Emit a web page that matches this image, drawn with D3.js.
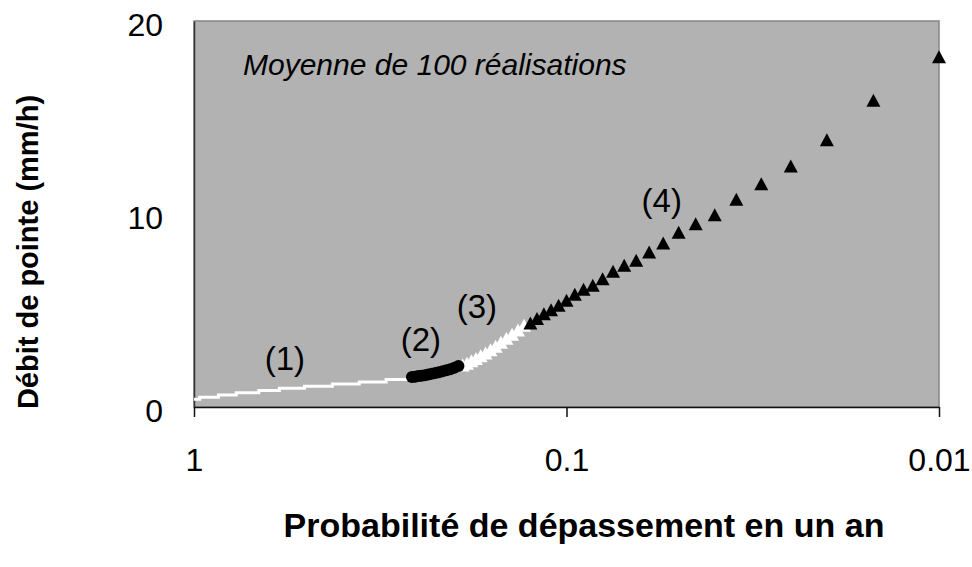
<!DOCTYPE html>
<html>
<head>
<meta charset="utf-8">
<script src="https://cdn.jsdelivr.net/npm/d3@7"></script>
<style>
    body { margin: 0; background: #fff; }
    svg text { font-family: "Liberation Sans", Arial, sans-serif; fill: #000; }
</style>
</head>
<body>
<svg id="chart" width="972" height="567"></svg>
<script>
// Probabilité de dépassement (x) et débit de pointe en mm/h (y)

// (1) ligne blanche en escalier : paliers
const steps1P = [1, 0.965, 0.86, 0.77, 0.67, 0.59, 0.505, 0.425, 0.36, 0.305, 0.265];
const steps1Y = [0.40, 0.51, 0.62, 0.74, 0.85, 0.97, 1.08, 1.19, 1.30, 1.42, 1.42];

// (2) cercles noirs
const series2P = [0.195, 0.200, 0.205, 0.210, 0.215, 0.220, 0.225, 0.230, 0.235, 0.240, 0.245, 0.250, 0.255, 0.260];
const series2Y = [2.12, 2.03, 1.96, 1.90, 1.85, 1.80, 1.76, 1.72, 1.68, 1.65, 1.62, 1.60, 1.57, 1.55];

// (3) triangles blancs
const series3P = [0.130, 0.135, 0.140, 0.145, 0.150, 0.155, 0.160, 0.165, 0.170, 0.175, 0.180, 0.185, 0.190];
const series3Y = [4.23, 3.99, 3.77, 3.56, 3.36, 3.15, 2.96, 2.80, 2.65, 2.51, 2.39, 2.27, 2.17];

// (4) triangles noirs
const series4P = [0.010, 0.015, 0.020, 0.025, 0.030, 0.035, 0.040, 0.045, 0.050, 0.055, 0.060, 0.065,
                  0.070, 0.075, 0.080, 0.085, 0.090, 0.095, 0.100, 0.105, 0.110, 0.115, 0.120, 0.125];
const series4Y = [18.15, 15.89, 13.85, 12.49, 11.57, 10.76, 9.96, 9.50, 9.05, 8.50, 8.03, 7.60,
                  7.34, 7.03, 6.65, 6.31, 6.10, 5.84, 5.53, 5.27, 5.04, 4.83, 4.58, 4.35];

const xTicks = [1, 0.1, 0.01];
const yTicks = [0, 10, 20];

const labels = [
    { text: '(1)', p: 0.570, v: 1.92 },
    { text: '(2)', p: 0.246, v: 2.90 },
    { text: '(3)', p: 0.174, v: 4.61 },
    { text: '(4)', p: 0.0555, v: 10.1 }
];

const svg = d3.select('#chart');
const margin = { top: 21, right: 33, bottom: 160, left: 194 };
const width = 972 - margin.left - margin.right;
const height = 567 - margin.top - margin.bottom;

const g = svg.append('g')
    .attr('transform', `translate(${margin.left},${margin.top})`);

const x = d3.scaleLog().domain([1, 0.01]).range([0, width]);
const y = d3.scaleLinear().domain([0, 20]).range([height, 0]);

// plot background
g.append('rect')
    .attr('width', width)
    .attr('height', height)
    .attr('fill', '#b2b2b2')
    .attr('stroke', '#858585')
    .attr('stroke-width', 1.5);

// Y axis
const yAxis = g.append('g')
    .call(d3.axisLeft(y).tickValues(yTicks).tickSize(0).tickPadding(31));
yAxis.select('.domain').attr('stroke', '#333').attr('stroke-width', 1.5);
yAxis.selectAll('text')
    .attr('dy', '0.45em')
    .style('font-size', '32px');

// X axis
const xAxis = g.append('g')
    .attr('transform', `translate(0,${height})`)
    .call(d3.axisBottom(x).tickValues(xTicks).tickFormat(d => String(d)).tickSize(10).tickPadding(31).tickSizeOuter(0));
xAxis.select('.domain').attr('stroke', '#111').attr('stroke-width', 1.5);
xAxis.selectAll('.tick line').attr('stroke', '#111').attr('stroke-width', 1.5);
xAxis.selectAll('text').style('font-size', '32px');

// (1) white stepped line
const steps1 = steps1P.map((p, i) => ({ p, v: steps1Y[i] }));
const line = d3.line()
    .x(d => x(d.p))
    .y(d => y(d.v))
    .curve(d3.curveStepAfter);

g.append('path')
    .datum(steps1)
    .attr('d', line)
    .attr('fill', 'none')
    .attr('stroke', '#fff')
    .attr('stroke-width', 3);

// triangle marker, centred on its box
const triangle = {
    draw(context, size) {
        const w = Math.sqrt(size);
        context.moveTo(0, -w / 2);
        context.lineTo(w / 2 + 0.5, w / 2);
        context.lineTo(-w / 2 - 0.5, w / 2);
        context.closePath();
    }
};
const triPath = d3.symbol().type(triangle).size(13 * 13)();

// (3) white triangles
g.selectAll('.tri3')
    .data(series3P.map((p, i) => ({ p, v: series3Y[i] })))
    .enter()
    .append('path')
    .attr('class', 'tri3')
    .attr('d', triPath)
    .attr('transform', d => `translate(${x(d.p)},${y(d.v)})`)
    .attr('fill', '#fff');

// (2) black circles
g.selectAll('.dot2')
    .data(series2P.map((p, i) => ({ p, v: series2Y[i] })))
    .enter()
    .append('circle')
    .attr('class', 'dot2')
    .attr('cx', d => x(d.p))
    .attr('cy', d => y(d.v))
    .attr('r', 6)
    .attr('fill', '#000');

// (4) black triangles
g.selectAll('.tri4')
    .data(series4P.map((p, i) => ({ p, v: series4Y[i] })))
    .enter()
    .append('path')
    .attr('class', 'tri4')
    .attr('d', triPath)
    .attr('transform', d => `translate(${x(d.p)},${y(d.v)})`)
    .attr('fill', '#000');

// series labels
g.selectAll('.lbl')
    .data(labels)
    .enter()
    .append('text')
    .attr('class', 'lbl')
    .attr('x', d => x(d.p))
    .attr('y', d => y(d.v))
    .attr('text-anchor', 'middle')
    .style('font-size', '33px')
    .text(d => d.text);

// annotation
g.append('text')
    .attr('x', 49)
    .attr('y', 54)
    .style('font-size', '30px')
    .style('font-style', 'italic')
    .text('Moyenne de 100 réalisations');

// axis titles
svg.append('text')
    .attr('x', 584)
    .attr('y', 537)
    .attr('text-anchor', 'middle')
    .style('font-size', '34px')
    .style('font-weight', 'bold')
    .text('Probabilité de dépassement en un an');

svg.append('text')
    .attr('transform', 'translate(38,252) rotate(-90)')
    .attr('text-anchor', 'middle')
    .style('font-size', '29px')
    .style('font-weight', 'bold')
    .text('Débit de pointe (mm/h)');
</script>
</body>
</html>
